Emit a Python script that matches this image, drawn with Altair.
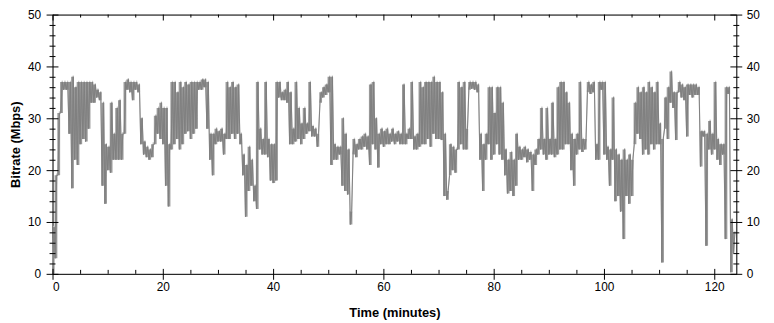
import altair as alt
import pandas as pd

# Bitrate readings per half-minute bin: low and high of the fast oscillation (Mbps)
lo = [0, 3, 19, 31, 35.5, 35.5, 27, 16.5, 22, 21,
      25, 26, 25.5, 28, 33, 33, 34, 33.5, 17, 13.5,
      20, 19.5, 22, 22, 22, 22, 27, 35.5, 35, 33.5,
      35.5, 35, 25, 23, 22.5, 22, 22.5, 25, 27, 26,
      25, 17, 13, 24, 25, 26, 24, 25, 27, 27.5,
      26, 27, 28, 35.5, 35.5, 36, 28, 22, 19, 25,
      25.5, 25.5, 23, 26, 26, 27, 26, 27, 25, 19,
      11, 16, 17, 14, 12.5, 24, 23, 23, 22.5, 18,
      17.5, 18, 34, 33.5, 33.5, 33, 25, 25, 25.5, 26,
      25, 26, 27, 27.5, 26.5, 26.5, 24.5, 33, 34, 34.5,
      35, 21, 22, 22, 23, 17, 16, 15.3, 9.5, 23,
      22.5, 24, 24, 24.5, 24, 21, 25, 24, 20.5, 25,
      24.5, 25, 25, 25.5, 25, 25.5, 25, 25, 25, 26,
      26, 24, 24, 24.5, 25, 25, 26, 24.5, 27, 26,
      26, 25.8, 15, 14.3, 19, 20, 19.5, 24, 25, 24,
      24, 35.5, 35.7, 35.5, 35, 22, 16, 22, 25, 22,
      23, 25, 23, 22, 19, 15.5, 16, 15, 17, 22,
      22, 22.5, 21.5, 22, 16, 21, 23, 24, 23, 22,
      23, 23, 22.5, 23, 24, 24, 25, 25, 20, 17,
      23, 24, 23.5, 24, 35, 34.7, 35, 22, 22, 35.5,
      23, 22, 17, 22, 14, 15, 12, 6.7, 15, 13.5,
      15, 25, 27, 26, 23, 24, 23, 25, 24, 25,
      25, 2.2, 28, 26, 33, 32, 25.8, 35, 34, 33.5,
      26.5, 34.5, 34, 34.5, 34.5, 20.7, 26.5, 5.4, 24, 23,
      24, 22, 21, 23, 6.7, 34.7, 0.3, 4]
hi = [9, 19, 31, 37, 37, 37, 37, 38, 36, 37,
      37, 37, 37, 37, 37, 36.5, 35.5, 35, 33, 25,
      24.5, 33, 27, 32, 33.5, 27, 37, 37.5, 37, 37,
      37, 36.5, 30, 25.5, 24.5, 24, 25, 30.5, 32, 33,
      32, 32, 25, 37, 37, 35, 37, 36, 37, 36.5,
      37, 37, 37, 37, 37.5, 37.5, 37, 27, 27, 28,
      27.5, 28, 27, 37, 36, 37, 36, 36.5, 27, 23,
      21, 24.5, 22, 17, 37, 28, 26, 37, 26, 25,
      25, 37, 37, 35, 35.5, 37, 35, 28, 37, 32,
      29, 32, 29, 37, 28.5, 28, 27, 35, 36, 36.5,
      38, 38, 25, 24.5, 24.5, 30, 27, 24, 12, 26,
      25, 26, 26.5, 27, 26.5, 36.5, 37, 30, 27, 28,
      27.5, 28, 27, 28, 27, 27.5, 27, 36.5, 27, 28,
      37, 26.5, 27, 37, 36, 37, 37, 37, 38, 37,
      37, 35, 27, 16, 25, 24.5, 24, 37, 36, 37,
      28, 37, 37, 37, 36.5, 27, 25, 27, 36, 36,
      31, 36, 36, 33, 24, 22, 23.5, 22, 27, 24.5,
      24, 24.5, 24, 23.5, 23, 24, 26, 32, 26, 32,
      26, 33, 26, 36, 37, 37, 35, 33, 27, 26,
      27, 37, 26, 26, 37, 36.5, 37, 25, 37, 37,
      37, 24.5, 24, 34, 24, 23, 22, 24, 22, 23,
      22, 33, 36, 35, 36, 35, 37, 36, 35, 37,
      29, 26, 34, 36, 39, 35, 35, 37, 36.5, 36,
      36.5, 36.5, 36.5, 36.5, 36, 27.5, 27.5, 27, 29.5, 27,
      37, 26, 25, 25, 36, 36, 10.5, 8]

x_major = [0, 20, 40, 60, 80, 100, 120]
x_minor = [5, 10, 15, 25, 30, 35, 45, 50, 55, 65, 70, 75, 85, 90, 95, 105, 110, 115]
y_major = [0, 10, 20, 30, 40, 50]
y_minor = [2, 4, 6, 8, 12, 14, 16, 18, 22, 24, 26, 28, 32, 34, 36, 38, 42, 44, 46, 48]

STEP = 0.5
rows = []
for i, (a, b) in enumerate(zip(lo, hi)):
    rows.append({"t": i * STEP, "v": a})
    rows.append({"t": i * STEP + STEP / 2, "v": b})
df = pd.DataFrame(rows)
band = pd.DataFrame({"t": [i * STEP + STEP / 4 for i in range(len(lo))], "lo": lo, "hi": hi})

W, H = 691, 262
FONT = "Liberation Sans"
DARK = "#808080"
LIGHT = "#c8c8c8"

xs = alt.Scale(domain=[0, 124], nice=False, zero=False)
ys = alt.Scale(domain=[0, 50], nice=False, zero=False)

x_bottom = alt.Axis(values=x_major, orient="bottom", title="Time (minutes)", ticks=False,
                    domain=True, grid=False, labelPadding=8, labelFontSize=12,
                    titleFontSize=13, titleFontWeight="bold", titleX=W / 2, titleY=39,
                    titleBaseline="middle", labelFont=FONT, titleFont=FONT,
                    labelColor="black", titleColor="black", domainColor="black")
x_top = alt.Axis(values=x_major, orient="top", title="", ticks=False, labels=False,
                 domain=True, grid=False, domainColor="black")
y_left = alt.Axis(values=y_major, orient="left", title="Bitrate (Mbps)", ticks=False,
                  domain=True, grid=False, labelPadding=12, labelFontSize=12,
                  titleFontSize=13, titleFontWeight="bold", titleX=-37, titleY=H / 2,
                  titleAngle=270, titleBaseline="middle", labelFont=FONT, titleFont=FONT,
                  labelColor="black", titleColor="black", domainColor="black")
y_right = alt.Axis(values=y_major, orient="right", title="", ticks=False,
                   domain=True, grid=False, labelPadding=10, labelFontSize=12,
                   labelFont=FONT, labelColor="black", domainColor="black")

light = alt.Chart(df).mark_line(color=LIGHT, strokeWidth=1.2, yOffset=-1.3).encode(
    x=alt.X("t:Q", scale=xs, axis=x_bottom),
    y=alt.Y("v:Q", scale=ys, axis=y_left),
)
fill = alt.Chart(band).mark_area(color=DARK, opacity=0.8, interpolate="step").encode(
    x=alt.X("t:Q", scale=xs, axis=None),
    y=alt.Y("lo:Q", scale=ys, axis=None),
    y2="hi:Q",
)
dark = alt.Chart(df).mark_line(color=DARK, strokeWidth=1).encode(
    x=alt.X("t:Q", scale=xs, axis=x_top),
    y=alt.Y("v:Q", scale=ys, axis=y_right),
)

dxM = pd.DataFrame({"t": x_major})
dxm = pd.DataFrame({"t": x_minor})
dyM = pd.DataFrame({"v": y_major})
dym = pd.DataFrame({"v": y_minor})


def xt(data, y0, y1):
    return alt.Chart(data).mark_rule(color="black", strokeWidth=1, xOffset=0.5).encode(
        x=alt.X("t:Q", scale=xs, axis=None), y=alt.value(y0), y2=alt.value(y1))


def yt(data, x0, x1):
    return alt.Chart(data).mark_rule(color="black", strokeWidth=1, yOffset=0.5).encode(
        y=alt.Y("v:Q", scale=ys, axis=None), x=alt.value(x0), x2=alt.value(x1))


ticks = [
    xt(dxM, H - 5, H + 6), xt(dxm, H - 4, H),
    xt(dxM, 0, 6), xt(dxm, 0, 3),
    yt(dyM, -6, 6), yt(dym, -3, 3),
    yt(dyM, W - 6, W + 6), yt(dym, W - 3, W + 3),
]

chart = alt.layer(light, fill, dark, *ticks).resolve_axis(
    x="independent", y="independent"
).properties(
    width=W, height=H,
    autosize=alt.AutoSizeParams(type="none"),
    padding={"left": 45, "top": 5, "right": 30, "bottom": 45},
).configure_view(stroke=None).configure(background="white")

chart.save("out.html", embed_options={"renderer": "svg", "actions": False})
